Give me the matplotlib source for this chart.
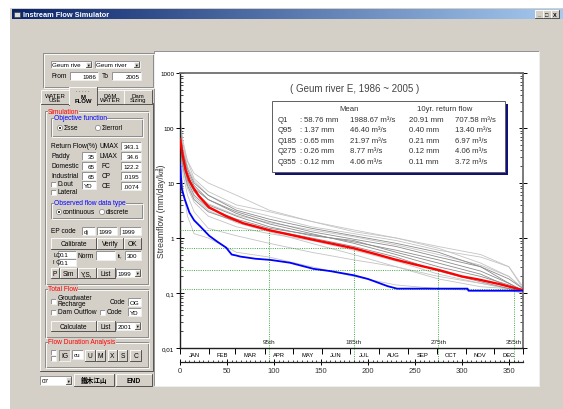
import numpy as np
import matplotlib
matplotlib.use('Agg')
import matplotlib.pyplot as plt
from matplotlib.patches import Rectangle, Circle
from matplotlib.colors import LinearSegmentedColormap
from matplotlib.ticker import FixedLocator, FuncFormatter, MultipleLocator, LogLocator, NullFormatter

plt.rcParams['font.family'] = ['Liberation Sans', 'Noto Sans CJK KR', 'DejaVu Sans']

W, H = 563, 410

# ---------------- data ----------------
mean_days = [0, 3, 6, 10, 14, 20, 31, 49, 67, 96, 120, 139, 160, 185, 210, 228, 250, 276, 300, 317, 340, 365]
mean_vals = [63, 31, 17, 11, 8.3, 5.8, 3.6, 2.5, 1.86, 1.37, 1.12, 0.95, 0.8, 0.65, 0.5, 0.41, 0.33, 0.26, 0.2, 0.177, 0.145, 0.113]

rtn_days = [0, 2, 5, 10, 15, 21, 31, 40, 49, 55, 60, 64, 80, 96, 117, 142, 160, 185, 200, 221, 231, 306, 307, 365]
rtn_vals = [22, 7.7, 5.1, 2.9, 2.1, 1.66, 1.1, 0.85, 0.67, 0.5, 0.48, 0.46, 0.42, 0.40, 0.355, 0.275, 0.25, 0.21, 0.18, 0.133, 0.12, 0.12, 0.11, 0.11]

year_days = [0, 3, 8, 15, 30, 60, 95, 140, 185, 230, 275, 320, 350, 365]
years_dark = [
    [90, 40, 18, 10, 6, 3.2, 2.2, 1.5, 1.1, 0.8, 0.55, 0.3, 0.15, 0.11],
    [60, 25, 12, 7, 4, 2.5, 1.6, 1.1, 0.9, 0.55, 0.35, 0.22, 0.13, 0.11],
    [70, 30, 14, 8, 5, 3, 2, 1.3, 0.95, 0.7, 0.45, 0.3, 0.18, 0.12],
    [55, 20, 9, 5, 3, 2, 1.4, 1.0, 0.7, 0.45, 0.25, 0.16, 0.12, 0.11],
    [80, 35, 16, 9, 5, 2.8, 1.8, 1.2, 0.8, 0.5, 0.3, 0.2, 0.14, 0.11],
    [65, 28, 11, 6, 3.5, 2.2, 1.5, 1.15, 0.85, 0.6, 0.4, 0.25, 0.15, 0.11],
]
years_light = [
    [150, 60, 25, 12, 7, 4, 3.0, 2.0, 1.3, 1.0, 0.7, 0.5, 0.3, 0.12],
    [45, 15, 6, 3, 1.5, 1.1, 0.8, 0.55, 0.4, 0.3, 0.2, 0.15, 0.12, 0.1],
    [35, 8, 2.5, 1.2, 1.0, 0.55, 0.45, 0.3, 0.2, 0.14, 0.12, 0.11, 0.11, 0.1],
    [120, 50, 20, 11, 6, 3.5, 2.5, 1.6, 1.2, 0.9, 0.6, 0.45, 0.3, 0.13],
    [40, 18, 8, 4.5, 2.5, 1.6, 1.2, 0.9, 0.6, 0.38, 0.22, 0.15, 0.12, 0.1],
    [100, 50, 25, 15, 10, 6, 3.2, 2.0, 1.4, 1.0, 0.65, 0.35, 0.2, 0.12],
    [50, 22, 10, 5.5, 3.2, 1.9, 1.3, 0.8, 0.5, 0.3, 0.18, 0.13, 0.12, 0.11],
    [75, 32, 13, 7, 4.2, 2.6, 1.9, 1.4, 1.05, 0.75, 0.5, 0.32, 0.2, 0.12],
]

q_days = [95, 185, 275, 355]
q_vals = [1.37, 0.65, 0.26, 0.12]
q_labels = ['95th', '185th', '275th', '355th']

months = ['JAN', 'FEB', 'MAR', 'APR', 'MAY', 'JUN', 'JUL', 'AUG', 'SEP', 'OCT', 'NOV', 'DEC']
month_bounds = [0, 31, 59, 90, 120, 151, 181, 212, 243, 273, 304, 334, 365]

ytick_vals = [0.01, 0.1, 1, 10, 100, 1000]
ytick_text = ['0,01', '0,1', '1', '10', '100', '1000']

tbl_names = ['Q1', 'Q95', 'Q185', 'Q275', 'Q355']
tbl_mean_mm = ['58.76 mm', '1.37 mm', '0.65 mm', '0.26 mm', '0.12 mm']
tbl_mean_cms = ['1988.67 m³/s', '46.40 m³/s', '21.97 m³/s', '8.77 m³/s', '4.06 m³/s']
tbl_rtn_mm = ['20.91 mm', '0.40 mm', '0.21 mm', '0.12 mm', '0.11 mm']
tbl_rtn_cms = ['707.58 m³/s', '13.40 m³/s', '6.97 m³/s', '4.06 m³/s', '3.72 m³/s']

FACE = '#D4D0C8'
FS = 4.8

fig = plt.figure(figsize=(W / 100, H / 100), dpi=100, facecolor='white')

# ---------------- window / gui (pixel coords, y down) ----------------
bg = fig.add_axes([0, 0, 1, 1], zorder=0)
bg.set_xlim(0, W); bg.set_ylim(H, 0); bg.axis('off')

bg.add_patch(Rectangle((10, 9), W - 10, H - 9, fc=FACE, ec='none'))
grad = np.linspace(0, 1, 256).reshape(1, -1)
tcmap = LinearSegmentedColormap.from_list('tb', ['#0A246A', '#A6CAF0'])
bg.imshow(grad, cmap=tcmap, extent=(12, W, 20, 10), aspect='auto', zorder=1)
bg.text(23, 15.2, 'Instream Flow Simulator', color='white', fontsize=5.3, fontweight='bold', va='center', zorder=2)
bg.add_patch(Rectangle((14, 12.5), 6, 5, fc='#dddddd', ec='#333333', lw=0.4, zorder=2))


def raised(x0, y0, x1, y1, fc=FACE, z=2):
    bg.add_patch(Rectangle((x0, y0), x1 - x0, y1 - y0, fc=fc, ec='none', zorder=z))
    bg.plot([x0, x0, x1], [y1, y0, y0], color='white', lw=0.6, zorder=z)
    bg.plot([x0, x1, x1], [y1, y1, y0], color='#404040', lw=0.6, zorder=z)


def sunken(x0, y0, x1, y1, fc='white', z=2):
    bg.add_patch(Rectangle((x0, y0), x1 - x0, y1 - y0, fc=fc, ec='none', zorder=z))
    bg.plot([x0, x0, x1], [y1, y0, y0], color='#808080', lw=0.6, zorder=z)
    bg.plot([x0, x1, x1], [y1, y1, y0], color='#f4f4f4', lw=0.6, zorder=z)


def txt(x, y, s, color='black', size=FS, ha='left', z=3, **kw):
    bg.text(x, y, s, color=color, fontsize=size, ha=ha, va='center', zorder=z, **kw)


def button(x0, y0, x1, y1, s, size=FS, **kw):
    raised(x0, y0, x1, y1)
    txt((x0 + x1) / 2, (y0 + y1) / 2 + 0.3, s, ha='center', size=size, **kw)


def field(x0, y0, x1, y1, s='', ha='right'):
    sunken(x0, y0, x1, y1)
    if s:
        tx = x1 - 1.5 if ha == 'right' else x0 + 1.5
        txt(tx, (y0 + y1) / 2 + 0.3, s, ha=ha, size=FS - 0.3)


def combo(x0, y0, x1, y1, s):
    field(x0, y0, x1, y1, s, ha='left')
    raised(x1 - 6, y0 + 1, x1 - 1, y1 - 1, z=3)
    txt(x1 - 3.5, (y0 + y1) / 2 + 0.3, '▼', ha='center', size=2.6, z=4)


def group(x0, y0, x1, y1, title='', color='black'):
    bg.add_patch(Rectangle((x0, y0), x1 - x0, y1 - y0, fc='none', ec='#808080', lw=0.6, zorder=2))
    bg.add_patch(Rectangle((x0 + 0.8, y0 + 0.8), x1 - x0, y1 - y0, fc='none', ec='white', lw=0.6, zorder=2))
    if title:
        bg.text(x0 + 3, y0, title, color=color, fontsize=FS, va='center', zorder=3,
                bbox=dict(fc=FACE, ec='none', pad=0.2))


def check(x, y):
    sunken(x, y - 2.5, x + 5, y + 2.5)


def radio(x, y, on):
    bg.add_patch(Circle((x, y), 2.6, fc='white', ec='#808080', lw=0.5, zorder=3))
    if on:
        bg.add_patch(Circle((x, y), 1.0, fc='black', ec='none', zorder=4))


# title bar buttons
for bx, sym in [(535, '_'), (543, '□'), (551, 'X')]:
    button(bx, 11, bx + 7.5, 19, sym, size=4, fontweight='bold')

# chart panel
sunken(154, 52, 539, 387)

# top group: river / years
group(43, 54, 153, 88)
combo(51, 62, 92, 69, 'Geum rive')
combo(95, 62, 140, 69, 'Geum river')
txt(51, 77, 'From')
field(70, 73, 98, 81, '1986')
txt(102, 77, 'To')
field(112, 73, 141, 81, '2005')

# tab page
raised(40, 104, 153, 372)
for x0, x1, s in [(41, 69, 'WATER\nUSE'), (97, 124, 'DAM\nWATER'), (124, 152, 'Dam\nSizing')]:
    raised(x0, 91, x1, 105)
    txt((x0 + x1) / 2, 98.5, s, ha='center', size=4.3, linespacing=0.85)
raised(69, 88, 97, 106)
bg.add_patch(Rectangle((69.5, 104), 27, 3, fc=FACE, ec='none', zorder=3))
txt(83, 91.5, '· · · · ·', ha='center', size=3.5, z=3)
txt(83, 99.5, 'M\nFLOW', ha='center', size=4.3, linespacing=0.85, fontweight='bold')

# simulation group
group(45, 112, 148, 285, 'Simulation', 'red')
group(51, 119, 142, 137, 'Objective function', 'blue')
radio(60, 129, True); txt(64, 129, 'Σsse')
radio(98, 129, False); txt(102, 129, 'Σlerrorl')

txt(51, 147, 'Return Flow(%)')
txt(99, 147, 'UMAX'); field(121, 143, 141, 151, '343.1')
txt(51, 157, 'Paddy'); field(82, 153, 96, 161, '35')
txt(100, 157, 'LMAX'); field(121, 153, 141, 161, '34.6')
txt(51, 167, 'Domestic'); field(82, 163, 96, 171, '65')
txt(102, 167, 'FC'); field(121, 163, 141, 171, '122.2')
txt(51, 177, 'Industrial'); field(82, 173, 96, 181, '65')
txt(102, 177, 'CP'); field(121, 173, 141, 181, '.0195')
check(51, 185); txt(58, 185, 'D.out'); field(82, 182, 96, 190, 'YD', ha='left')
txt(102, 187, 'CE'); field(121, 183, 141, 191, '.0074')
check(51, 193); txt(58, 193, 'Lateral')

group(51, 204, 142, 219, 'Observed flow data type', 'blue')
radio(59, 213, True); txt(63, 213, 'continuous')
radio(102, 213, False); txt(106, 213, 'discrete')

txt(51, 232, 'EP code'); field(82, 228, 95, 236, 'dj', ha='left')
field(97, 228, 117, 236, '1999', ha='left'); field(120, 228, 141, 236, '1999', ha='left')
button(51, 239, 96, 250, 'Calibrate'); button(97, 239, 123, 250, 'Verify'); button(124, 239, 141, 250, 'OK')
txt(53, 255, 'LQ', size=4.2); field(58, 252, 76, 259, '0.1', ha='left')
txt(53, 263, 'I Q', size=4.2); field(58, 260, 76, 267, '0.1', ha='left')
txt(78, 256, 'Norm'); field(96, 252, 115, 261)
txt(118, 256, 'lt,', size=4.2); field(125, 252, 141, 261, '300', ha='left')
button(51, 269, 59, 279, 'P'); button(60, 269, 77, 279, 'Sim'); button(78, 269, 96, 279, 'Y,S,')
button(97, 269, 115, 279, 'List'); combo(116, 270, 141, 278, '1999')

group(45, 290, 148, 338, 'Total Flow', 'red')
check(51, 302); txt(58, 299, 'Groudwater'); txt(58, 305, 'Recharge')
txt(110, 303, 'Code'); field(128, 299, 141, 307, 'OG', ha='left')
check(51, 313); txt(58, 313, 'Dam Outflow')
check(100, 313); txt(107, 313, 'Code'); field(128, 309, 141, 317, 'YD', ha='left')
button(51, 322, 96, 332, 'Calculate'); button(97, 322, 115, 332, 'List'); combo(116, 323, 141, 331, '2001')

group(45, 343, 148, 368, 'Flow Duration Analysis', 'red')
sunken(51, 351, 56, 356); sunken(51, 357, 56, 362)
sunken(59, 351, 70, 362, fc=FACE)
txt(64.5, 356.8, 'IG', ha='center')
field(72, 351, 83, 360, 'cu', ha='left')
for x0, x1, s in [(85, 95, 'U'), (96, 105, 'M'), (108, 117, 'X'), (118, 127, 'S'), (130, 141, 'C')]:
    button(x0, 351, x1, 362, s)

combo(40, 377, 72, 386, '07')
button(74, 375, 114, 387, '鐵木江山', fontweight='bold')
button(116, 375, 152, 387, 'END', fontweight='bold')

# ---------------- chart ----------------
L, R, T, B = 180, 523, 74, 349
ax = fig.add_axes([L / W, 1 - B / H, (R - L) / W, (B - T) / H], zorder=2)
ax.set_facecolor('white')


def axy(px, py):
    return (px - L) / (R - L), (B - py) / (B - T)


for yv in years_light:
    ax.plot(year_days, yv, color='#c4c4c4', lw=0.6, zorder=2)
for yv in years_dark:
    ax.plot(year_days, yv, color='#8c8c8c', lw=0.6, zorder=2)

ax.plot(mean_days, mean_vals, color='#ff0000', lw=1.7, zorder=4)
ax.plot(rtn_days, rtn_vals, color='#0000ff', lw=1.3, zorder=4)

dots = (0, (1.2, 1.5))
for d, v, lab in zip(q_days, q_vals, q_labels):
    ax.plot([0, d], [v, v], color='#2ca02c', lw=0.6, ls=dots, zorder=3)
    ax.plot([d, d], [0.01, v], color='#2ca02c', lw=0.6, ls=dots, zorder=3)
    ax.plot([d, d], [-13 / (B - T), 0], color='#2ca02c', lw=0.6, ls=dots,
            transform=ax.get_xaxis_transform(), clip_on=False, zorder=3)
    ax.text(d, 0.0118, lab, ha='center', va='bottom', fontsize=4.6, color='#222222')

ax.set_yscale('log')
ax.set_ylim(0.01, 1000)
ax.set_xlim(0, 365)
ax.yaxis.set_major_locator(FixedLocator(ytick_vals))
ax.yaxis.set_major_formatter(FuncFormatter(lambda v, p: dict(zip(ytick_vals, ytick_text)).get(round(v, 4), '')))
ax.yaxis.set_minor_locator(LogLocator(base=10, subs=np.arange(2, 10)))
ax.yaxis.set_minor_formatter(NullFormatter())
ax.tick_params(axis='y', which='major', direction='inout', length=6, width=0.7, labelsize=4.5, pad=1, right=True)
ax.tick_params(axis='y', which='minor', direction='in', length=2.5, width=0.5, right=True)

ax.set_xticks(month_bounds)
ax.set_xticklabels([])
ax.set_xticks([(a + b) / 2 for a, b in zip(month_bounds[:-1], month_bounds[1:])], minor=True)
ax.set_xticklabels(months, minor=True)
ax.tick_params(axis='x', which='major', direction='out', length=4, width=0.7)
ax.tick_params(axis='x', which='minor', length=0, labelsize=4.2, pad=3.0)

for s in ['top', 'right']:
    ax.spines[s].set_color('#707070')
    ax.spines[s].set_linewidth(1.3)
for s in ['left', 'bottom']:
    ax.spines[s].set_color('#202020')
    ax.spines[s].set_linewidth(1.0)

ax.set_ylabel('Streamflow (mm/day/㎢)', fontsize=6.2, color='#333333')
ax.yaxis.set_label_coords((166 - L) / (R - L), 0.5)

ax.text(*axy(355, 89), '( Geum river E, 1986 ~ 2005 )', transform=ax.transAxes,
        ha='center', va='center', fontsize=7, color='#444444')

# summary table
tx0, ty0, tx1, ty1 = 272, 102, 505, 173
sx0, sy1 = axy(tx0 + 2.5, ty1 + 2.5)
sx1, sy0 = axy(tx1 + 2.5, ty0 + 2.5)
ax.add_patch(Rectangle((sx0, sy1), sx1 - sx0, sy0 - sy1, transform=ax.transAxes, fc='#10107a', ec='none', zorder=6))
bx0, by1 = axy(tx0, ty1)
bx1, by0 = axy(tx1, ty0)
ax.add_patch(Rectangle((bx0, by1), bx1 - bx0, by0 - by1, transform=ax.transAxes, fc='white', ec='#606060', lw=0.7, zorder=7))

tfs = 5.6
tcol = '#333333'
ax.text(*axy(349, 110), 'Mean', transform=ax.transAxes, ha='center', va='center', fontsize=tfs, color=tcol, zorder=8)
ax.text(*axy(445, 110), '10yr. return flow', transform=ax.transAxes, ha='center', va='center', fontsize=tfs, color=tcol, zorder=8)
row_y = [121, 131, 142, 152, 163]
for i, ry in enumerate(row_y):
    for px, s in [(278, tbl_names[i]), (299, ':'), (304, tbl_mean_mm[i]), (350, tbl_mean_cms[i]),
                  (409, tbl_rtn_mm[i]), (455, tbl_rtn_cms[i])]:
        ax.text(*axy(px, ry), s, transform=ax.transAxes, ha='left', va='center', fontsize=tfs, color=tcol, zorder=8)

# day-number axis under the month band
ax2 = fig.add_axes([L / W, 1 - 362.5 / H, (R - L) / W, 0.5 / H], zorder=2)
ax2.patch.set_visible(False)
for s in ['top', 'left', 'right']:
    ax2.spines[s].set_visible(False)
ax2.spines['bottom'].set_color('#202020')
ax2.spines['bottom'].set_linewidth(0.9)
ax2.set_xlim(0, 365)
ax2.set_yticks([])
ax2.xaxis.set_major_locator(MultipleLocator(50))
ax2.xaxis.set_minor_locator(MultipleLocator(5))
ax2.tick_params(axis='x', which='major', direction='inout', length=4.5, width=0.7, labelsize=5.5, pad=1.5, labelcolor='#333333')
ax2.tick_params(axis='x', which='minor', direction='in', length=1.8, width=0.5)

fig.savefig('out.png', dpi=100, facecolor=fig.get_facecolor())
